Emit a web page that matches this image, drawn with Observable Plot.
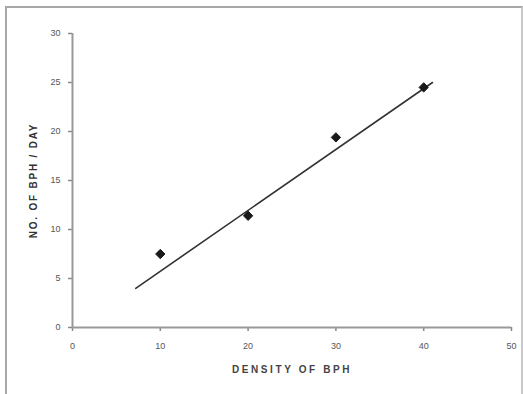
<!DOCTYPE html>
<html>
<head>
<meta charset="utf-8">
<script src="https://cdn.jsdelivr.net/npm/d3@7"></script>
<script src="https://cdn.jsdelivr.net/npm/@observablehq/plot@0.6"></script>
<style>
  html, body { margin: 0; padding: 0; background: #fff; }
  #wrap { position: relative; width: 523px; height: 394px; overflow: hidden; }
  #border { position: absolute; left: 5px; top: 6px; width: 514px; height: 400px;
            border-left: 2px solid #a8a8a8; border-top: 2px solid #a8a8a8; border-right: 2px solid #c8c8c8; }
  #wrap svg { position: absolute; left: 0; top: 0; }
  .xtitle text { letter-spacing: 2.6px; }
  .ytitle text { letter-spacing: 1.8px; }
</style>
</head>
<body>
<div id="wrap"><div id="border"></div></div>
<script>
const density = [10, 20, 30, 40];
const bphPerDay = [7.5, 11.4, 19.4, 24.5];
const trendX = [7.2, 41];
const trendY = [4, 25];
const xTicks = [0, 10, 20, 30, 40, 50];
const yTicks = [0, 5, 10, 15, 20, 25, 30];
const xTitle = "DENSITY OF BPH";
const yTitle = "NO. OF BPH / DAY";

const points = density.map((d, i) => ({x: d, y: bphPerDay[i]}));
const trend = trendX.map((d, i) => ({x: d, y: trendY[i]}));

const chart = Plot.plot({
  width: 523,
  height: 394,
  marginLeft: 72,
  marginRight: 12,
  marginTop: 33,
  marginBottom: 67,
  style: {fontFamily: "Arial, 'Liberation Sans', sans-serif", background: "transparent", color: "#444"},
  x: {domain: [0, 50], ticks: xTicks},
  y: {domain: [0, 30], ticks: yTicks},
  marks: [
    Plot.axisX({ticks: xTicks, tickSize: 4, tickPadding: 11, fontSize: 9, stroke: "#888", strokeWidth: 1.5, fill: "#555", label: null}),
    Plot.axisY({ticks: yTicks, tickSize: 4, tickPadding: 8, fontSize: 9, stroke: "#888", strokeWidth: 1.5, fill: "#555", label: null}),
    Plot.ruleY([0], {stroke: "#999", strokeWidth: 2}),
    Plot.ruleX([0], {stroke: "#999", strokeWidth: 2}),
    Plot.line(trend, {x: "x", y: "y", stroke: "#333", strokeWidth: 1.6}),
    Plot.dot(points, {x: "x", y: "y", symbol: "diamond2", r: 4.2, fill: "#1a1a1a", stroke: "#1a1a1a", strokeWidth: 1}),
    Plot.text([xTitle], {frameAnchor: "bottom", dy: 45, fontSize: 10, fontWeight: "bold", fill: "#444", className: "xtitle"}),
    Plot.text([yTitle], {frameAnchor: "left", textAnchor: "middle", dx: -39, rotate: -90, fontSize: 10, fontWeight: "bold", fill: "#333", className: "ytitle"})
  ]
});
document.getElementById("wrap").appendChild(chart);
</script>
</body>
</html>
